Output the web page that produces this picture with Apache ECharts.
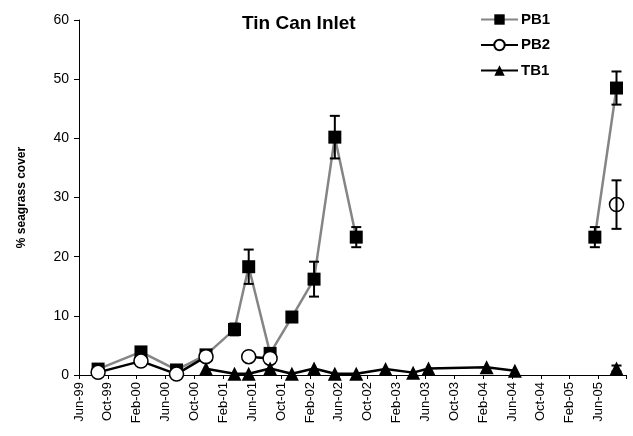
<!DOCTYPE html>
<html>
<head>
<meta charset="utf-8">
<script src="https://cdn.jsdelivr.net/npm/echarts@6/dist/echarts.min.js"></script>
<style>
  html, body { margin: 0; padding: 0; background: #fff; }
  #chart { width: 633px; height: 436px; }
</style>
</head>
<body>
<div id="chart"></div>
<script>
// Sampling dates (survey visits)
const sampleDates = [
  '1999-08-21', '2000-02-18', '2000-07-17', '2000-11-19', '2001-03-18',
  '2001-05-17', '2001-08-16', '2001-11-16', '2002-02-17', '2002-05-15',
  '2002-08-14', '2002-12-16', '2003-04-10', '2003-06-14', '2004-02-15',
  '2004-06-13', '2005-05-16', '2005-08-16'
];

// % seagrass cover per site (null = not sampled)
const pb1 = [1.0, 3.9, 0.85, 3.4, 7.7, 18.3, 3.65, 9.8, 16.2, 40.2, 23.3,
             null, null, null, null, null, 23.3, 48.5];
const pb2 = [0.45, 2.35, 0.15, 3.1, null, 3.1, 2.8, null, null, null, null,
             null, null, null, null, null, null, 28.8];
const tb1 = [null, null, null, 1.05, 0.2, 0.2, 1.1, 0.2, 1.1, 0.2, 0.2,
             1.0, 0.4, 1.1, 1.3, 0.7, null, 1.1];

// Standard errors (null = no bar shown)
const pb1Err = [null, null, null, null, 1.0, 2.9, null, null, 2.95, 3.6, 1.7,
                null, null, null, null, null, 1.7, 2.8];
const pb2Err = [null, null, null, null, null, null, null, null, null, null, null,
                null, null, null, null, null, null, 4.1];
const tb1Err = [null, null, null, null, null, null, null, null, null, null, null,
                null, null, null, null, null, null, 0.5];

// Axis tick labels, one every four months starting Jun-99
const tickLabels = [
  'Jun-99', 'Oct-99', 'Feb-00', 'Jun-00', 'Oct-00', 'Feb-01', 'Jun-01',
  'Oct-01', 'Feb-02', 'Jun-02', 'Oct-02', 'Feb-03', 'Jun-03', 'Oct-03',
  'Feb-04', 'Jun-04', 'Oct-04', 'Feb-05', 'Jun-05'
];

// Months elapsed since 1 June 1999 (fractional)
function monthIndex(s) {
  const [y, m, d] = s.split('-').map(Number);
  const dim = new Date(y, m, 0).getDate();
  return (y - 1999) * 12 + (m - 6) + (d - 1) / dim;
}
const xs = sampleDates.map(monthIndex);

function pairs(vals) {
  return vals.map((v, i) => [xs[i], v == null ? null : v]);
}
function errData(vals, errs) {
  const out = [];
  vals.forEach((v, i) => {
    if (v != null && errs[i] != null) out.push([xs[i], v - errs[i], v + errs[i]]);
  });
  return out;
}

function errorBarSeries(vals, errs, z) {
  return {
    type: 'custom',
    z: z,
    silent: true,
    data: errData(vals, errs),
    encode: { x: 0, y: [1, 2] },
    renderItem: function (params, api) {
      const x = api.value(0);
      const lo = api.coord([x, api.value(1)]);
      const hi = api.coord([x, api.value(2)]);
      const hw = 5;
      const st = { stroke: '#000', lineWidth: 2 };
      return {
        type: 'group',
        children: [
          { type: 'line', shape: { x1: lo[0], y1: lo[1], x2: hi[0], y2: hi[1] }, style: st },
          { type: 'line', shape: { x1: lo[0] - hw, y1: lo[1], x2: lo[0] + hw, y2: lo[1] }, style: st },
          { type: 'line', shape: { x1: hi[0] - hw, y1: hi[1], x2: hi[0] + hw, y2: hi[1] }, style: st }
        ]
      };
    }
  };
}

const chart = echarts.init(document.getElementById('chart'), null, { renderer: 'canvas' });
const FONT = '"Liberation Sans", Arial, sans-serif';

chart.setOption({
  animation: false,
  backgroundColor: '#fff',
  textStyle: { fontFamily: FONT, color: '#000' },
  title: {
    text: 'Tin Can Inlet',
    left: 242,
    top: 14,
    padding: 0,
    textStyle: { fontFamily: FONT, fontWeight: 'bold', fontSize: 19, color: '#000' }
  },
  legend: {
    data: ['PB1', 'PB2', 'TB1'],
    orient: 'vertical',
    left: 480,
    top: 12,
    padding: 0,
    itemWidth: 37,
    itemHeight: 13,
    itemGap: 10.5,
    textStyle: { fontFamily: FONT, fontWeight: 'bold', fontSize: 15, color: '#000', padding: [0, 0, 0, -2] }
  },
  grid: { left: 79, right: 7, top: 20, bottom: 61, containLabel: false },
  xAxis: {
    type: 'value',
    min: 0,
    max: 75.8,
    interval: 4,
    splitLine: { show: false },
    axisLine: { onZero: false, lineStyle: { color: '#000', width: 1 } },
    axisTick: { show: true, inside: false, length: 4, lineStyle: { color: '#000' } },
    axisLabel: {
      rotate: 90,
      margin: 7,
      fontFamily: FONT,
      fontSize: 13,
      color: '#000',
      formatter: function (v) {
        const i = Math.round(v / 4);
        return (Math.abs(v - i * 4) < 1e-6 && i < tickLabels.length) ? tickLabels[i] : '';
      }
    }
  },
  yAxis: {
    type: 'value',
    min: 0,
    max: 60,
    interval: 10,
    name: '% seagrass cover',
    nameLocation: 'middle',
    nameRotate: 90,
    nameGap: 51,
    nameTextStyle: { fontFamily: FONT, fontWeight: 'bold', fontSize: 12, color: '#000' },
    splitLine: { show: false },
    axisLine: { show: true, lineStyle: { color: '#000', width: 1 } },
    axisTick: { show: true, length: 5, lineStyle: { color: '#000' } },
    axisLabel: { fontFamily: FONT, fontSize: 14, color: '#000', margin: 10 }
  },
  series: [
    {
      name: 'PB1',
      type: 'line',
      z: 2,
      data: pairs(pb1),
      symbol: 'rect',
      symbolSize: 13,
      lineStyle: { color: '#858585', width: 2.5 },
      itemStyle: { color: '#000', borderColor: '#000', borderWidth: 0 }
    },
    {
      name: 'PB2',
      type: 'line',
      z: 3,
      data: pairs(pb2),
      symbol: 'circle',
      symbolSize: 14,
      lineStyle: { color: '#000', width: 2.5 },
      itemStyle: { color: '#fff', borderColor: '#000', borderWidth: 1.5 }
    },
    {
      name: 'TB1',
      type: 'line',
      z: 4,
      data: pairs(tb1),
      symbol: 'triangle',
      symbolSize: 14,
      lineStyle: { color: '#000', width: 2.5 },
      itemStyle: { color: '#000', borderColor: '#000', borderWidth: 0 }
    },
    errorBarSeries(pb1, pb1Err, 5),
    errorBarSeries(pb2, pb2Err, 5),
    errorBarSeries(tb1, tb1Err, 5)
  ]
});
</script>
</body>
</html>
